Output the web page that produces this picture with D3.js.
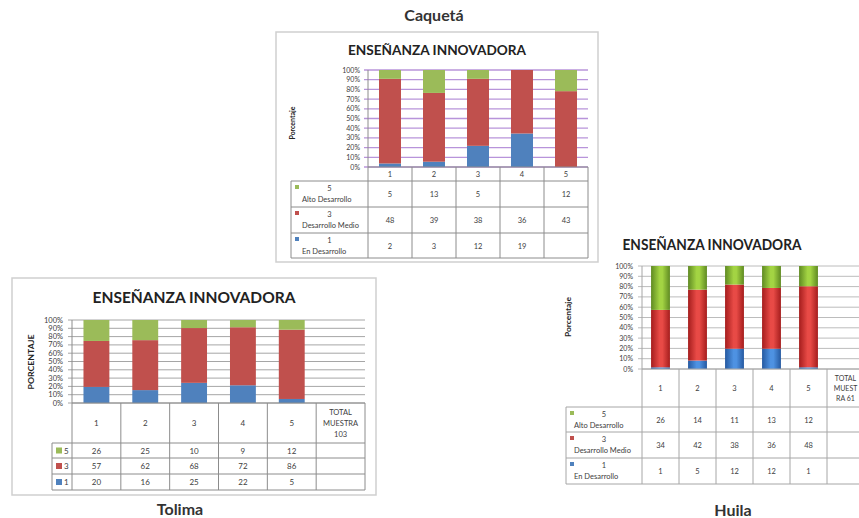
<!DOCTYPE html>
<html>
<head>
<meta charset="utf-8">
<script src="https://cdn.jsdelivr.net/npm/d3@7"></script>
<style>
  body { margin: 0; background: #fff; }
  svg { display: block; }
  text { font-family: Lato, "Open Sans", sans-serif; }
</style>
</head>
<body>
<svg id="chart" width="859" height="518"></svg>
<script>
// categories and tick labels
const categories = ["1", "2", "3", "4", "5"];
const levels = ["1", "3", "5"];                  // stack order, bottom to top
const yTickValues = [0, 0.1, 0.2, 0.3, 0.4, 0.5, 0.6, 0.7, 0.8, 0.9, 1];
const yTickLabels = ["0%", "10%", "20%", "30%", "40%", "50%", "60%", "70%", "80%", "90%", "100%"];
const levelNames = { "5": "Alto Desarrollo", "3": "Desarrollo Medio", "1": "En Desarrollo" };

// Caquetá
const caqueta5 = [5, 13, 5, null, 12];
const caqueta3 = [48, 39, 38, 36, 43];
const caqueta1 = [2, 3, 12, 19, null];

// Tolima
const tolima5 = [26, 25, 10, 9, 12];
const tolima3 = [57, 62, 68, 72, 86];
const tolima1 = [20, 16, 25, 22, 5];
const tolimaTotal = ["TOTAL", "MUESTRA", "103"];

// Huila
const huila5 = [26, 14, 11, 13, 12];
const huila3 = [34, 42, 38, 36, 48];
const huila1 = [1, 5, 12, 12, 1];
const huilaTotal = ["TOTAL", "MUEST", "RA 61"];

const colors = { "5": "#9bbb59", "3": "#c0504d", "1": "#4f81bd" };

const svg = d3.select("#chart");

// gradients for the Huila bars (3D look)
const defs = svg.append("defs");
const grads = { "5": ["#5f8a22", "#a3d443"], "3": ["#a51d1d", "#e84a46"], "1": ["#2559a0", "#4e92e2"] };
Object.keys(grads).forEach(k => {
  const lg = defs.append("linearGradient").attr("id", "g" + k).attr("x1", "0").attr("x2", "1");
  lg.append("stop").attr("offset", "0").attr("stop-color", grads[k][0]);
  lg.append("stop").attr("offset", "0.45").attr("stop-color", grads[k][1]);
  lg.append("stop").attr("offset", "0.6").attr("stop-color", grads[k][1]);
  lg.append("stop").attr("offset", "1").attr("stop-color", grads[k][0]);
});

function drawChart(o) {
  const g = svg.append("g");
  const rows = categories.map((c, i) => ({ cat: c, "1": o.s["1"][i] || 0, "3": o.s["3"][i] || 0, "5": o.s["5"][i] || 0 }));
  const stacked = d3.stack().keys(levels).offset(d3.stackOffsetExpand)(rows);
  const cols = o.total ? categories.concat(["total"]) : categories;
  const x = d3.scaleBand().domain(cols).range([o.x0, o.x1]);
  const y = d3.scaleLinear().domain([0, 1]).range([o.yBot, o.yTop]);

  if (o.frame) {
    g.append("rect").attr("x", o.frame[0]).attr("y", o.frame[1])
      .attr("width", o.frame[2]).attr("height", o.frame[3])
      .attr("fill", "none").attr("stroke", "#cfcfcf").attr("stroke-width", 1.5);
  }

  // captions
  g.append("text").attr("x", o.capX).attr("y", o.capY).attr("text-anchor", "middle")
    .attr("font-size", 16).attr("font-weight", "bold").attr("fill", "#333").text(o.caption);
  g.append("text").attr("x", o.titleX).attr("y", o.titleY).attr("text-anchor", "middle")
    .attr("font-size", o.titleSize).attr("font-weight", "bold").attr("fill", "#222")
    .attr("textLength", o.titleW).attr("lengthAdjust", "spacingAndGlyphs")
    .text("ENSEÑANZA INNOVADORA");

  // gridlines
  g.selectAll(".grid").data(yTickValues).join("line")
    .attr("x1", o.x0 - 4).attr("x2", o.x1)
    .attr("y1", d => y(d)).attr("y2", d => y(d))
    .attr("stroke", o.gridColor).attr("stroke-width", o.gridW);
  g.append("line").attr("x1", o.x0).attr("x2", o.x0).attr("y1", o.yTop).attr("y2", o.yBot)
    .attr("stroke", o.lineColor);

  // y tick labels
  g.selectAll(".tick").data(yTickValues).join("text")
    .attr("x", o.tickX).attr("y", d => y(d) + 2.5).attr("text-anchor", "end")
    .attr("font-size", o.tickSize).attr("fill", "#404040")
    .text((d, i) => yTickLabels[i]);

  g.append("text").attr("transform", `translate(${o.axX},${o.axY}) rotate(-90)`)
    .attr("text-anchor", "middle").attr("font-size", 7).attr("font-weight", "bold")
    .attr("fill", "#222").attr("textLength", o.axW).attr("lengthAdjust", "spacingAndGlyphs")
    .text(o.axTitle);

  // bars
  const bw = x.bandwidth() * o.barFrac;
  stacked.forEach(layer => {
    g.append("g").selectAll("rect").data(layer).join("rect")
      .attr("x", d => x(d.data.cat) + (x.bandwidth() - bw) / 2)
      .attr("width", bw)
      .attr("y", d => y(d[1]))
      .attr("height", d => y(d[0]) - y(d[1]))
      .attr("fill", o.gradient ? `url(#g${layer.key})` : colors[layer.key]);
  });

  // table
  const r = o.rowY;
  const lc = o.lineColor;
  const xEnd = o.x1;
  cols.forEach(c => {
    g.append("line").attr("x1", x(c)).attr("x2", x(c)).attr("y1", o.yBot).attr("y2", r[3]).attr("stroke", lc);
  });
  g.append("line").attr("x1", xEnd).attr("x2", xEnd).attr("y1", o.yBot).attr("y2", r[3]).attr("stroke", lc);
  g.append("line").attr("x1", o.x0).attr("x2", xEnd).attr("y1", o.yBot).attr("y2", o.yBot).attr("stroke", lc);
  g.append("line").attr("x1", o.legX).attr("x2", o.legX).attr("y1", r[0]).attr("y2", r[3]).attr("stroke", lc);
  r.forEach(yy => {
    g.append("line").attr("x1", o.legX).attr("x2", xEnd).attr("y1", yy).attr("y2", yy).attr("stroke", lc);
  });

  // header labels
  const headMid = (o.yBot + r[0]) / 2;
  g.selectAll(".hd").data(categories).join("text")
    .attr("x", d => x(d) + x.bandwidth() / 2).attr("y", headMid + 3)
    .attr("text-anchor", "middle").attr("font-size", o.valSize).attr("fill", "#404040").text(d => d);
  if (o.total) {
    g.selectAll(".tot").data(o.total).join("text")
      .attr("x", x("total") + x.bandwidth() / 2)
      .attr("y", (d, i) => headMid + 3 + (i - 1) * o.valSize * 1.35)
      .attr("text-anchor", "middle").attr("font-size", o.valSize - 0.5).attr("fill", "#404040").text(d => d);
  }

  // rows: 5, 3, 1 from top
  ["5", "3", "1"].forEach((k, ri) => {
    const top = r[ri], bot = r[ri + 1], mid = (top + bot) / 2;
    g.selectAll(".v" + k).data(o.s[k]).join("text")
      .attr("x", (d, i) => x(categories[i]) + x.bandwidth() / 2).attr("y", mid + 3)
      .attr("text-anchor", "middle").attr("font-size", o.valSize).attr("fill", "#404040")
      .text(d => d == null ? "" : d);
    if (o.longLegend) {
      g.append("rect").attr("x", o.legX + 4).attr("y", top + 4).attr("width", 4).attr("height", 4).attr("fill", colors[k]);
      g.append("text").attr("x", (o.legX + o.x0) / 2).attr("y", top + 10).attr("text-anchor", "middle")
        .attr("font-size", 7.5).attr("fill", "#404040").text(k);
      g.append("text").attr("x", o.legX + o.nameOff).attr("y", top + 21)
        .attr("font-size", 7.5).attr("fill", "#404040").text(levelNames[k]);
    } else {
      g.append("rect").attr("x", o.legX + 4).attr("y", mid - 3).attr("width", 6).attr("height", 6).attr("fill", colors[k]);
      g.append("text").attr("x", o.legX + 12).attr("y", mid + 3)
        .attr("font-size", o.valSize).attr("fill", "#404040").text(k);
    }
  });
}

drawChart({
  s: { "5": caqueta5, "3": caqueta3, "1": caqueta1 },
  caption: "Caquetá", capX: 434, capY: 21,
  titleX: 437, titleY: 55, titleSize: 14, titleW: 178,
  frame: [276, 32, 322, 230],
  x0: 368, x1: 588, yTop: 70, yBot: 167, barFrac: 0.5,
  gridColor: "#b894da", gridW: 1.3, lineColor: "#8c8c8c",
  tickX: 360, tickSize: 7, axX: 295, axY: 123, axW: 33, axTitle: "Porcentaje",
  rowY: [181, 207, 233, 258], legX: 291, longLegend: true, nameOff: 11, valSize: 7.5
});

drawChart({
  s: { "5": tolima5, "3": tolima3, "1": tolima1 }, total: tolimaTotal,
  caption: "Tolima", capX: 180, capY: 515,
  titleX: 194, titleY: 303, titleSize: 16, titleW: 203,
  frame: [12, 278, 364, 217],
  x0: 72, x1: 365, yTop: 320, yBot: 403, barFrac: 0.53,
  gridColor: "#a6a6a6", gridW: 1, lineColor: "#8c8c8c",
  tickX: 63, tickSize: 7.5, axX: 34, axY: 362, axW: 55, axTitle: "PORCENTAJE",
  rowY: [443, 458, 474, 490], legX: 52, longLegend: false, valSize: 8
});

drawChart({
  s: { "5": huila5, "3": huila3, "1": huila1 }, total: huilaTotal, gradient: true,
  caption: "Huila", capX: 733, capY: 516,
  titleX: 712, titleY: 250, titleSize: 15, titleW: 179,
  x0: 642, x1: 864, yTop: 266, yBot: 369, barFrac: 0.51,
  gridColor: "#bcbcbc", gridW: 1, lineColor: "#a6a6a6",
  tickX: 633, tickSize: 7, axX: 571, axY: 317, axW: 40, axTitle: "Porcentaje",
  rowY: [407, 432, 458, 484], legX: 566, longLegend: true, nameOff: 8, valSize: 7.5
});
</script>
</body>
</html>
